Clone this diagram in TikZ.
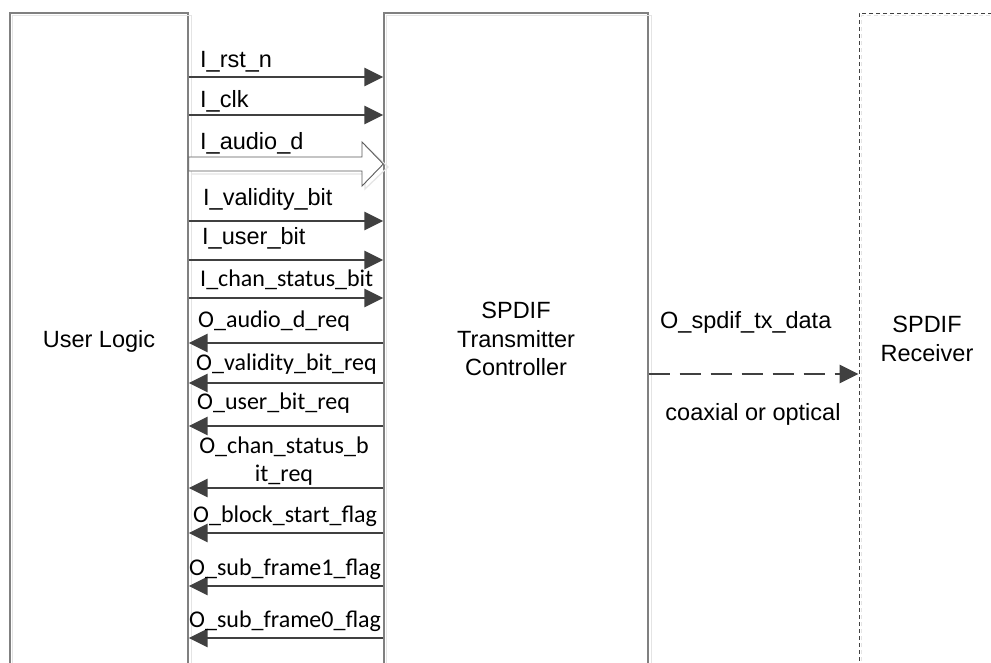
\documentclass[tikz,border=0pt]{standalone}
\usepackage{fontspec}
\setmainfont{Liberation Sans}
\newfontfamily\calfont{Carlito}
\usetikzlibrary{arrows.meta}
\definecolor{boxgray}{HTML}{808080}
\definecolor{shgray}{HTML}{E4E4E4}
\definecolor{arrgray}{HTML}{404040}
\definecolor{blkgray}{HTML}{5A5A5A}
\begin{document}
\begin{tikzpicture}[x=1pt,y=-1pt,
  blk/.style={draw=boxgray, line width=1.4pt, inner sep=0pt, align=center,
    font=\fontsize{23.5}{28.5}\selectfont},
  rxblk/.style={draw=arrgray, line width=0.9pt, dash pattern=on 4pt off 3pt,
    inner sep=0pt, align=center, font=\fontsize{23.5}{29}\selectfont},
  shline/.style={draw=shgray, line width=1.2pt},
  sig/.style={draw=arrgray, line width=2.8pt, -{Triangle[length=19pt,width=18pt]}},
  dsig/.style={sig, dash pattern=on 21pt off 10pt},
  barrow/.style={draw=blkgray, line width=0.9pt, fill=white, line join=miter},
  lab/.style={anchor=base west, inner sep=0pt, font=\fontsize{23.5}{28}\selectfont},
  clab/.style={anchor=base west, inner sep=0pt, font=\calfont\fontsize{24}{28}\selectfont}]
\clip (0,0) rectangle (991,662);
\fill[white] (0,0) rectangle (991,662);

% boxes
\node[blk, minimum width=178pt, minimum height=656pt] (ul) at (99,341) {User Logic};
\node[blk, minimum width=264pt, minimum height=652pt] (tc) at (516,339) {SPDIF\\Transmitter\\Controller};
\node[rxblk, minimum width=136pt, minimum height=652pt] (rx) at (927,339) {SPDIF\\Receiver};

% light shadows of the boxes
\draw[shline] ([shift={(3,3)}]ul.south west) -- ([shift={(3,3)}]ul.north west) -- ([shift={(3,3)}]ul.north east) -- ([shift={(3,3)}]ul.south east);
\draw[shline] ([shift={(3,3)}]tc.south west) -- ([shift={(3,3)}]tc.north west) -- ([shift={(3,3)}]tc.north east) -- ([shift={(3,3)}]tc.south east);
\draw[shline, dash pattern=on 4pt off 3pt] ([shift={(3,3)}]rx.south west) -- ([shift={(3,3)}]rx.north west) -- ([shift={(3,3)}]rx.north east);

% input signals
\draw[sig] (ul.east |- 0,77) -- (tc.west |- 0,77);
\draw[sig] (ul.east |- 0,115) -- (tc.west |- 0,115);
\draw[shline] (192,160) -- (365,160) -- (365,145) -- (388,167) -- (365,189) -- (365,174) -- (192,174);
\draw[barrow] (ul.east |- 0,157) -- (362,157) -- (362,142) -- (tc.west |- 0,164) -- (362,186) -- (362,171) -- (ul.east |- 0,171) -- cycle;
\draw[sig] (ul.east |- 0,221) -- (tc.west |- 0,221);
\draw[sig] (ul.east |- 0,260) -- (tc.west |- 0,260);
\draw[sig] (ul.east |- 0,298) -- (tc.west |- 0,298);

% output signals
\draw[sig] (tc.west |- 0,343) -- (ul.east |- 0,343);
\draw[sig] (tc.west |- 0,383) -- (ul.east |- 0,383);
\draw[sig] (tc.west |- 0,426) -- (ul.east |- 0,426);
\draw[sig] (tc.west |- 0,488) -- (ul.east |- 0,488);
\draw[sig] (tc.west |- 0,533) -- (ul.east |- 0,533);
\draw[sig] (tc.west |- 0,586) -- (ul.east |- 0,586);
\draw[sig] (tc.west |- 0,638) -- (ul.east |- 0,638);

% serial output
\draw[dsig] (tc.east |- 0,374) -- (rx.west |- 0,374);

% labels
\node[lab] (l1) at (200,67) {I\_rst\_n};
\node[lab] (l2) at (200,107) {I\_clk};
\node[lab] (l3) at (200,149) {I\_audio\_d};
\node[lab] (l4) at (203,205) {I\_validity\_bit};
\node[lab] (l5) at (202,244) {I\_user\_bit};
\node[clab] (l6) at (200,286) {I\_chan\_status\_bit};
\node[clab] (l7) at (198,327) {O\_audio\_d\_req};
\node[clab] (l8) at (196,370) {O\_validity\_bit\_req};
\node[clab] (l9) at (197,409) {O\_user\_bit\_req};
\node[clab, anchor=center, align=center] (l10) at (284,461) {O\_chan\_status\_b\\it\_req};
\node[clab] (l11) at (193,522) {O\_block\_start\_flag};
\node[clab] (l12) at (189,575) {O\_sub\_frame1\_flag};
\node[clab] (l13) at (189,627) {O\_sub\_frame0\_flag};
\node[lab] (l14) at (660,328) {O\_spdif\_tx\_data};
\node[lab, anchor=base] (l15) at (753,420) {coaxial or optical};
\end{tikzpicture}
\end{document}
